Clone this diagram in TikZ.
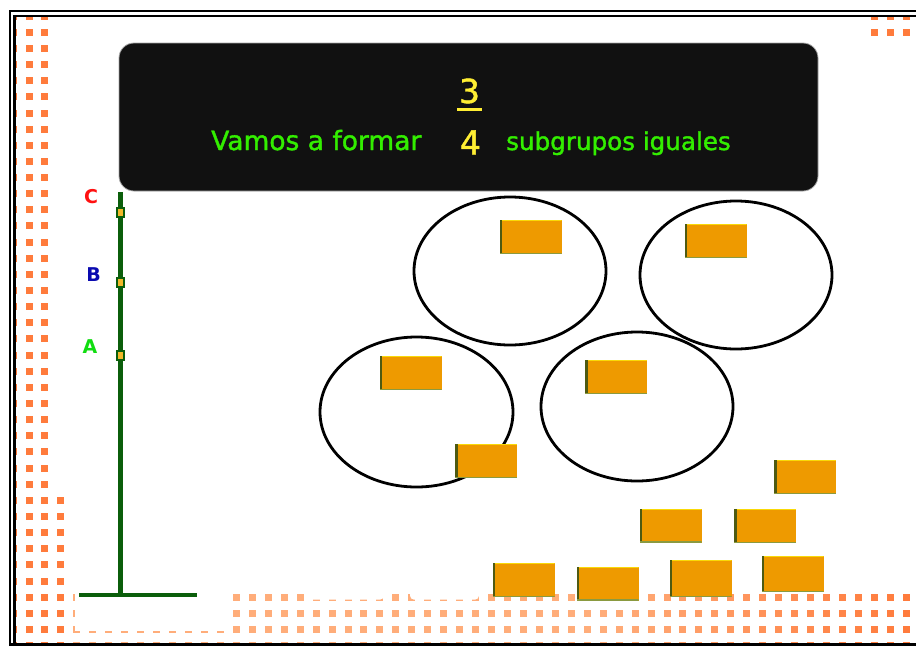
\documentclass[tikz,border=0pt]{standalone}
\usepackage{fontspec}
\setmainfont{DejaVu Sans}
\newfontfamily\titlefont[FakeBold=1.4]{DejaVu Sans}
\usetikzlibrary{shapes.geometric}
\definecolor{dotA}{HTML}{FF7B3C}
\definecolor{dotB}{HTML}{FFAD7A}
\definecolor{boxbg}{HTML}{111111}
\definecolor{txtgreen}{HTML}{33EE00}
\definecolor{txtyellow}{HTML}{FFEE33}
\definecolor{polegreen}{HTML}{0B5E0B}
\definecolor{brickfill}{HTML}{EE9A00}
\definecolor{brickedge}{HTML}{4E5A12}
\definecolor{brickbot}{HTML}{8A9A40}
\definecolor{markyellow}{HTML}{F2B829}
\definecolor{labred}{HTML}{FF1010}
\definecolor{labblue}{HTML}{0A0AB0}
\definecolor{labgreen}{HTML}{10DD10}
\tikzset{
  dotsq/.style={fill=#1},
  ring/.style={ellipse, draw=black, line width=2.8pt, inner sep=0pt},
  brickbox/.style={rectangle, fill=brickfill, inner sep=0pt,
    minimum width=62pt, minimum height=34pt,
    path picture={
      \fill[brickedge] (path picture bounding box.north west) rectangle ([xshift=2.5pt]path picture bounding box.south west);
      \fill[brickbot] (path picture bounding box.south west) rectangle ([yshift=1.2pt]path picture bounding box.south east);
      \fill[yellow!70!brickfill] ([xshift=2.5pt]path picture bounding box.north west) rectangle ([yshift=-1.2pt]path picture bounding box.north east);
    }},
  marker/.style={rectangle, fill=markyellow, draw=polegreen, line width=2pt,
    minimum width=7pt, minimum height=9pt, inner sep=0pt},
  poleline/.style={polegreen, line width=5pt},
  letterlab/.style={font=\fontsize{19}{19}\selectfont\bfseries, inner sep=0pt},
  titletxt/.style={font=\titlefont\fontsize{26.5}{26.5}\selectfont, text=txtgreen, inner sep=0pt, anchor=base west},
  digit/.style={font=\titlefont\fontsize{33}{33}\selectfont, text=txtyellow, inner sep=0pt, anchor=base},
  frameline/.style={black, line width=2.2pt}
}
\begin{document}
\begin{tikzpicture}[x=1pt,y=-1pt]
\useasboundingbox (0,0) rectangle (916,646);
\fill[white] (0,0) rectangle (916,646);
% ---------- dotted pattern ----------
\begin{scope}
\clip (15.7,17.3) rectangle (916,643.3);
\foreach \k in {-1,...,38}{
  \pgfmathsetmacro\yy{32.3+16.14*\k}
  \foreach \xx in {13.05,29,44.95}{
    \fill[dotsq=dotA] ({\xx-3.5},{\yy-3.5}) rectangle ++(7,7);
  }
}
\foreach \k in {29,...,38}{
  \pgfmathsetmacro\yy{32.3+16.14*\k}
  \fill[dotsq=dotA] ({60.9-3.5},{\yy-3.5}) rectangle ++(7,7);
}
\foreach \k in {35,...,38}{
  \pgfmathsetmacro\yy{32.3+16.14*\k}
  \foreach \i in {3,...,55}{
    \pgfmathsetmacro\xx{29+15.95*\i}
    \pgfmathtruncatemacro\pp{max(0,min(100,(\xx-600)/3.06))}
    \fill[dotsq=dotA!\pp!dotB] ({\xx-3.5},{\yy-3.5}) rectangle ++(7,7);
  }
}
\foreach \k in {-1,0}{
  \pgfmathsetmacro\yy{32.3+16.14*\k}
  \foreach \i in {53,54,55}{
    \pgfmathsetmacro\xx{29+15.95*\i}
    \fill[dotsq=dotA] ({\xx-3.5},{\yy-3.5}) rectangle ++(7,7);
  }
}
% white masks over the strip
\fill[white] (75,585) rectangle (231,631);
\fill[white, rounded corners=4pt] (308,585) rectangle (384,599.6);
\fill[white, rounded corners=4pt] (410,585) rectangle (479,599.6);
\end{scope}
% ---------- frame ----------
\draw[frameline] (10,646) -- (10,11) -- (916,11);
\draw[frameline] (14.5,646) -- (14.5,16.2) -- (916,16.2);
\draw[frameline] (9,644.4) -- (916,644.4);
% ---------- title box ----------
\node[rectangle, rounded corners=15pt, fill=boxbg, draw=gray!70, line width=0.8pt,
  minimum width=699pt, minimum height=148pt, inner sep=0pt] (box) at (468.5,117) {};
\node[digit] (num) at (469.5,103) {3};
\draw[txtyellow, line width=3pt] (457,109.5) -- (482,109.5);
\node[titletxt] (t1) at (211,150) {Vamos a formar};
\node[digit] (den) at (470.5,154.5) {4};
\node[titletxt, font=\titlefont\fontsize{24.6}{24.6}\selectfont] (t2) at (506,150) {subgrupos iguales};
% ---------- pole ----------
\coordinate (ptop) at (120,192);
\coordinate (pbot) at (120,597);
\coordinate (bl) at (79,595);
\coordinate (br) at (197,595);
\draw[poleline] (ptop) -- (pbot);
\draw[poleline, line width=4pt] (bl) -- (br);
\node[marker] (mC) at (120,212) {};
\node[marker] (mB) at (120,282) {};
\node[marker] (mA) at (120,355.5) {};
\node[letterlab, text=labred] (lC) at (91,196.5) {C};
\node[letterlab, text=labblue] (lB) at (93.5,274.5) {B};
\node[letterlab, text=labgreen] (lA) at (90,347) {A};
% ---------- groups ----------
\node[ring, minimum width=192pt, minimum height=148pt] (g1) at (510,271) {};
\node[ring, minimum width=192pt, minimum height=148pt] (g2) at (736,275) {};
\node[ring, minimum width=193pt, minimum height=150pt] (g3) at (416.5,412) {};
\node[ring, minimum width=192pt, minimum height=149pt] (g4) at (637,406.5) {};
% ---------- bricks ----------
\node[brickbox] (b1) at (530.5,237) {};
\node[brickbox] (b2) at (715.5,241) {};
\node[brickbox] (b3) at (410.5,373) {};
\node[brickbox] (b4) at (616,377) {};
\node[brickbox] (b5) at (486,461) {};
\node[brickbox] (b6) at (805,477) {};
\node[brickbox] (b7) at (670.5,525.5) {};
\node[brickbox] (b8) at (765,526) {};
\node[brickbox] (b9) at (523.5,580) {};
\node[brickbox] (b10) at (607.5,583.5) {};
\node[brickbox, minimum height=37pt] (b11) at (700.5,578.5) {};
\node[brickbox, minimum height=36pt] (b12) at (792.5,574) {};
\end{tikzpicture}
\end{document}
